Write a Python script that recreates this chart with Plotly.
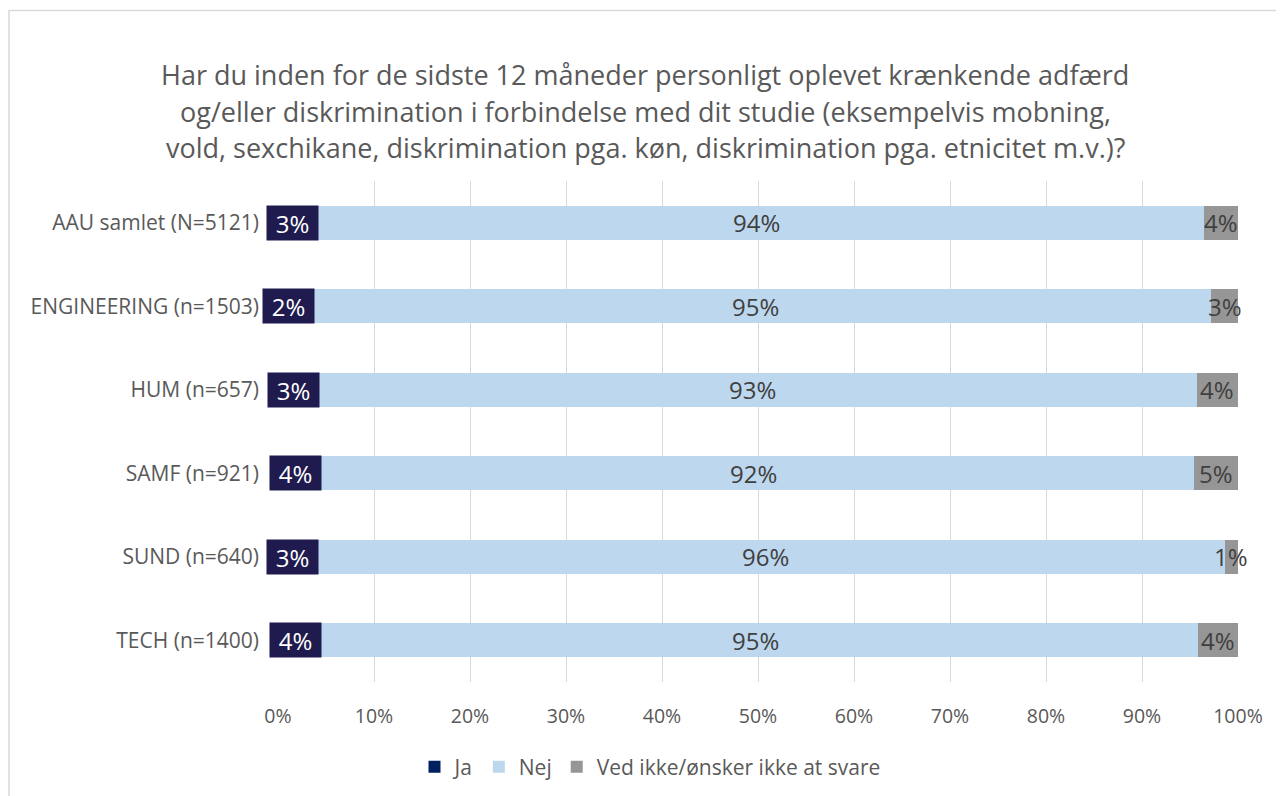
import plotly.graph_objects as go

categories = ["AAU samlet (N=5121)", "ENGINEERING (n=1503)", "HUM (n=657)",
              "SAMF (n=921)", "SUND (n=640)", "TECH (n=1400)"]
ja = [3.1, 2.2, 3.2, 3.7, 3.0, 3.6]
nej = [93.4, 95.0, 92.5, 91.7, 95.6, 92.2]
ved = [3.5, 2.8, 4.3, 4.6, 1.4, 4.2]
ja_lbl = ["3%", "2%", "3%", "4%", "3%", "4%"]
nej_lbl = ["94%", "95%", "93%", "92%", "96%", "95%"]
ved_lbl = ["4%", "3%", "4%", "5%", "1%", "4%"]
series_names = ["Ja", "Nej", "Ved ikke/ønsker ikke at svare"]
tick_vals = [0, 10, 20, 30, 40, 50, 60, 70, 80, 90, 100]
tick_text = ["0%", "10%", "20%", "30%", "40%", "50%", "60%", "70%", "80%", "90%", "100%"]
title_lines = [
    "Har du inden for de sidste 12 måneder personligt oplevet krænkende adfærd",
    "og/eller diskrimination i forbindelse med dit studie (eksempelvis mobning,",
    "vold, sexchikane, diskrimination pga. køn, diskrimination pga. etnicitet m.v.)?",
]

FONT = "Open Sans"
TXT = "#595959"

# page offset from default body margin
OFF = 8
W, H = 1284, 796
ml, mr = 278 - OFF, W - 1238 + OFF
mt, mb = 181 - OFF, H - 682 + OFF
pw = W - ml - mr
ph = H - mt - mb


def px_x(page_x):
    return (page_x - OFF - ml) / pw


def px_y(page_y):
    return 1 + (mt - (page_y - OFF)) / ph


fig = go.Figure()
fig.add_trace(go.Bar(y=categories, x=ja, name=series_names[0], orientation="h",
                     marker=dict(color="#002060", line_width=0), hoverinfo="skip"))
fig.add_trace(go.Bar(y=categories, x=nej, name=series_names[1], orientation="h",
                     marker=dict(color="#BDD7EE", line_width=0), hoverinfo="skip"))
fig.add_trace(go.Bar(y=categories, x=ved, name=series_names[2], orientation="h",
                     marker=dict(color="#969696", line_width=0), hoverinfo="skip"))

annotations = []
for i, c in enumerate(categories):
    annotations.append(dict(x=ja[i] / 2, y=c, xref="x", yref="y", text=ja_lbl[i],
                            showarrow=False, bgcolor="#1F1B4F", width=47, height=30,
                            borderpad=2, font=dict(family=FONT, size=24, color="white")))
    annotations.append(dict(x=ja[i] + nej[i] / 2, y=c, xref="x", yref="y", text=nej_lbl[i],
                            showarrow=False, font=dict(family=FONT, size=24, color="#404040")))
    annotations.append(dict(x=ja[i] + nej[i] + ved[i] / 2, y=c, xref="x", yref="y",
                            text=ved_lbl[i], showarrow=False,
                            font=dict(family=FONT, size=24, color="#404040")))

for k, line in enumerate(title_lines):
    annotations.append(dict(x=px_x(645), y=px_y(75 + 36 * k), xref="paper", yref="paper",
                            text=line, showarrow=False,
                            font=dict(family=FONT, size=27, color=TXT),
                            xanchor="center", yanchor="middle"))

fig.update_layout(
    width=W, height=H,
    margin=dict(l=ml, r=mr, t=mt, b=mb),
    barmode="stack", bargap=0.593,
    plot_bgcolor="white", paper_bgcolor="white",
    font=dict(family=FONT, color=TXT),
    showlegend=True,
    legend=dict(orientation="h", x=px_x(650), xanchor="center",
                y=px_y(767), yanchor="middle",
                font=dict(family=FONT, size=21, color=TXT), itemwidth=30,
                traceorder="normal"),
    annotations=annotations,
    shapes=[dict(type="rect", xref="paper", yref="paper",
                 x0=px_x(9), x1=px_x(W + 40),
                 y0=px_y(H + 40), y1=px_y(10.5),
                 line=dict(color="#D9D9D9", width=1.5), layer="below")],
)
fig.update_xaxes(range=[0, 100], tickvals=tick_vals, ticktext=tick_text,
                 showgrid=True, gridcolor="#D9D9D9", gridwidth=1.3, zeroline=False,
                 showline=False, ticks="", tickfont=dict(family=FONT, size=19.5, color=TXT),
                 ticklabelstandoff=20, fixedrange=True)
fig.update_yaxes(autorange="reversed", showgrid=False, ticks="", ticklen=0,
                 tickfont=dict(family=FONT, size=21, color=TXT), showline=False,
                 ticklabelstandoff=18, fixedrange=True)

fig.write_html("out.html")
